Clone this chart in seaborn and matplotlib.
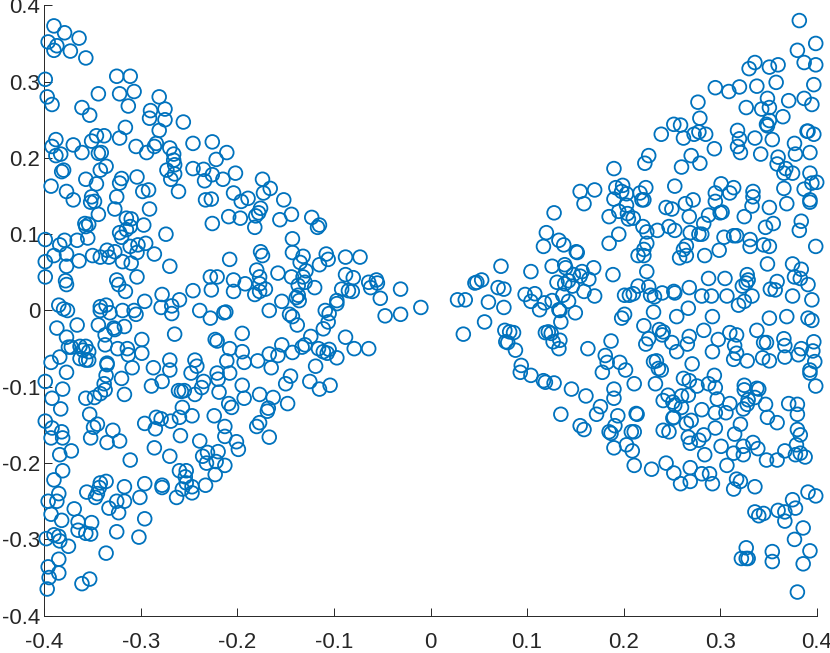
import pandas as pd
import matplotlib.pyplot as plt
import seaborn as sns

# left cloud, upper half
upper_left_x = [-0.390,-0.379,-0.364,-0.396,-0.387,-0.390,-0.373,-0.357,-0.399,-0.325,-0.311,-0.344,-0.322,-0.307,-0.313,-0.281,-0.397,-0.392,-0.361,-0.353,-0.290,-0.291,-0.275,-0.275,-0.256,-0.316,-0.281,-0.322,-0.388,-0.346,-0.338,-0.351,-0.370,-0.392,-0.305,-0.284,-0.286,-0.246,-0.226,-0.361,-0.388,-0.383,-0.344,-0.341,-0.294,-0.270,-0.266,-0.266,-0.211,-0.222,-0.265,-0.336,-0.342,-0.380,-0.382,-0.273,-0.246,-0.235,-0.265,-0.226,-0.234,-0.215,-0.357,-0.320,-0.322,-0.304,-0.269,-0.393,-0.346,-0.377,-0.298,-0.292,-0.261,-0.351,-0.325,-0.370,-0.348,-0.352,-0.233,-0.227,-0.204,-0.327,-0.291,-0.344,-0.209,-0.315,-0.310,-0.358,-0.354,-0.357,-0.297,-0.226,-0.311,-0.315,-0.322,-0.274,-0.320,-0.355,-0.399,-0.366,-0.379,-0.384,-0.295,-0.303,-0.311,-0.335,-0.327,-0.304,-0.390,-0.377,-0.286,-0.350,-0.342,-0.333,-0.208,-0.399,-0.364,-0.319,-0.310,-0.377,-0.270,-0.399,-0.304,-0.228,-0.221,-0.378,-0.325,-0.377,-0.323,-0.316,-0.227,-0.204,-0.246,-0.278,-0.204,-0.296,-0.260,-0.385,-0.380,-0.376,-0.336,-0.342,-0.342,-0.279,-0.268,-0.239,-0.332,-0.319,-0.307,-0.305,-0.268,-0.214,-0.228]
upper_left_y = [0.373,0.364,0.357,0.352,0.347,0.341,0.340,0.331,0.303,0.307,0.307,0.284,0.284,0.287,0.268,0.280,0.280,0.270,0.266,0.256,0.262,0.252,0.264,0.250,0.247,0.240,0.236,0.226,0.224,0.229,0.229,0.222,0.217,0.215,0.215,0.219,0.215,0.219,0.221,0.207,0.203,0.205,0.206,0.207,0.207,0.213,0.205,0.197,0.207,0.198,0.191,0.189,0.184,0.184,0.182,0.184,0.186,0.185,0.179,0.178,0.170,0.172,0.172,0.173,0.167,0.175,0.172,0.163,0.166,0.156,0.156,0.158,0.156,0.149,0.149,0.145,0.143,0.142,0.145,0.146,0.154,0.133,0.133,0.126,0.123,0.121,0.120,0.114,0.113,0.110,0.112,0.114,0.110,0.106,0.102,0.100,0.096,0.095,0.093,0.092,0.092,0.086,0.088,0.086,0.084,0.079,0.077,0.076,0.072,0.074,0.074,0.072,0.070,0.070,0.067,0.064,0.065,0.064,0.062,0.058,0.058,0.044,0.044,0.044,0.044,0.039,0.040,0.034,0.034,0.025,0.027,0.040,0.026,0.021,0.025,0.012,0.014,0.007,0.002,0.000,0.007,0.005,0.000,0.004,0.006,0.000,-0.003,0.000,0.000,-0.005,-0.004,-0.003,-0.010]

# left cloud, lower half
lower_left_x = [-0.387,-0.366,-0.344,-0.317,-0.328,-0.327,-0.265,-0.337,-0.377,-0.223,-0.221,-0.299,-0.375,-0.372,-0.363,-0.357,-0.360,-0.354,-0.337,-0.324,-0.314,-0.313,-0.299,-0.208,-0.363,-0.357,-0.354,-0.384,-0.393,-0.335,-0.335,-0.270,-0.244,-0.242,-0.211,-0.309,-0.287,-0.270,-0.248,-0.377,-0.336,-0.221,-0.220,-0.208,-0.320,-0.399,-0.338,-0.278,-0.289,-0.235,-0.237,-0.381,-0.337,-0.261,-0.255,-0.258,-0.219,-0.244,-0.317,-0.342,-0.348,-0.357,-0.392,-0.209,-0.383,-0.257,-0.260,-0.353,-0.247,-0.224,-0.399,-0.284,-0.279,-0.296,-0.269,-0.345,-0.392,-0.349,-0.285,-0.329,-0.382,-0.213,-0.393,-0.381,-0.352,-0.213,-0.259,-0.322,-0.335,-0.239,-0.286,-0.372,-0.384,-0.220,-0.231,-0.270,-0.236,-0.222,-0.311,-0.232,-0.213,-0.381,-0.260,-0.253,-0.254,-0.223,-0.390,-0.336,-0.342,-0.296,-0.253,-0.317,-0.278,-0.278,-0.233,-0.343,-0.247,-0.257,-0.356,-0.385,-0.345,-0.247,-0.347,-0.301,-0.263,-0.396,-0.387,-0.325,-0.317,-0.369,-0.333,-0.323,-0.393,-0.296,-0.382,-0.365,-0.351,-0.365,-0.325,-0.357,-0.352,-0.390,-0.385,-0.398,-0.302,-0.384,-0.375,-0.336,-0.385,-0.396,-0.385,-0.395,-0.353,-0.361,-0.397]
lower_left_y = [-0.023,-0.019,-0.019,-0.021,-0.023,-0.025,-0.031,-0.032,-0.035,-0.038,-0.040,-0.038,-0.048,-0.048,-0.047,-0.047,-0.052,-0.054,-0.045,-0.050,-0.050,-0.058,-0.056,-0.050,-0.063,-0.065,-0.065,-0.061,-0.068,-0.069,-0.071,-0.065,-0.065,-0.073,-0.066,-0.075,-0.075,-0.078,-0.082,-0.081,-0.085,-0.082,-0.090,-0.082,-0.089,-0.093,-0.096,-0.093,-0.099,-0.093,-0.101,-0.103,-0.104,-0.105,-0.105,-0.106,-0.107,-0.110,-0.110,-0.109,-0.114,-0.115,-0.115,-0.122,-0.129,-0.127,-0.140,-0.136,-0.138,-0.138,-0.145,-0.140,-0.142,-0.148,-0.145,-0.149,-0.154,-0.153,-0.155,-0.157,-0.159,-0.152,-0.167,-0.167,-0.167,-0.165,-0.164,-0.171,-0.173,-0.171,-0.180,-0.184,-0.189,-0.185,-0.186,-0.191,-0.191,-0.198,-0.196,-0.200,-0.203,-0.210,-0.210,-0.210,-0.218,-0.215,-0.222,-0.224,-0.226,-0.227,-0.226,-0.231,-0.229,-0.232,-0.229,-0.232,-0.231,-0.234,-0.238,-0.240,-0.240,-0.239,-0.245,-0.245,-0.245,-0.250,-0.250,-0.250,-0.250,-0.260,-0.259,-0.265,-0.267,-0.273,-0.275,-0.277,-0.278,-0.288,-0.290,-0.292,-0.293,-0.294,-0.296,-0.299,-0.297,-0.302,-0.309,-0.318,-0.326,-0.336,-0.344,-0.350,-0.352,-0.358,-0.365]

# left cloud, tip towards the centre
tip_left_x = [-0.202,-0.174,-0.166,-0.173,-0.189,-0.196,-0.152,-0.197,-0.176,-0.178,-0.181,-0.182,-0.156,-0.144,-0.123,-0.115,-0.117,-0.143,-0.143,-0.176,-0.174,-0.108,-0.106,-0.132,-0.135,-0.115,-0.088,-0.073,-0.129,-0.180,-0.158,-0.088,-0.080,-0.144,-0.132,-0.177,-0.130,-0.064,-0.056,-0.055,-0.062,-0.192,-0.137,-0.177,-0.120,-0.171,-0.031,-0.092,-0.085,-0.081,-0.177,-0.182,-0.137,-0.139,-0.136,-0.052,-0.097,-0.097,-0.154,-0.010,-0.167,-0.109,-0.212,-0.105,-0.146,-0.143,-0.047,-0.031,-0.106,-0.138,-0.111,-0.195,-0.088,-0.124,-0.154,-0.079,-0.064,-0.130,-0.133,-0.116,-0.105,-0.111,-0.107,-0.195,-0.167,-0.143,-0.158,-0.097,-0.193,-0.179,-0.165,-0.119,-0.145,-0.150,-0.125,-0.104,-0.115,-0.195,-0.177,-0.193,-0.163,-0.206,-0.148,-0.168,-0.169,-0.177,-0.180,-0.167,-0.201,-0.199]
tip_left_y = [0.180,0.172,0.160,0.154,0.147,0.143,0.145,0.121,0.134,0.128,0.124,0.109,0.119,0.126,0.122,0.112,0.109,0.094,0.076,0.077,0.072,0.074,0.067,0.071,0.063,0.060,0.070,0.070,0.052,0.053,0.049,0.047,0.043,0.044,0.044,0.044,0.037,0.037,0.040,0.036,0.030,0.035,0.033,0.035,0.030,0.028,0.028,0.028,0.026,0.025,0.025,0.021,0.020,0.017,0.013,0.016,0.013,0.009,0.012,0.004,0.000,0.000,-0.002,-0.004,-0.005,-0.008,-0.007,-0.005,-0.015,-0.019,-0.024,-0.030,-0.035,-0.034,-0.045,-0.050,-0.050,-0.045,-0.048,-0.050,-0.051,-0.054,-0.056,-0.054,-0.057,-0.055,-0.059,-0.062,-0.068,-0.066,-0.075,-0.073,-0.086,-0.096,-0.093,-0.098,-0.103,-0.098,-0.110,-0.115,-0.114,-0.127,-0.122,-0.128,-0.132,-0.147,-0.152,-0.166,-0.172,-0.182]

# right cloud, near the centre
inner_right_x = [0.190,0.155,0.170,0.159,0.192,0.199,0.198,0.190,0.203,0.128,0.195,0.185,0.204,0.205,0.120,0.133,0.195,0.185,0.138,0.117,0.151,0.152,0.073,0.126,0.140,0.104,0.169,0.139,0.157,0.189,0.155,0.148,0.164,0.131,0.143,0.139,0.147,0.053,0.048,0.046,0.070,0.076,0.159,0.098,0.108,0.170,0.201,0.206,0.104,0.028,0.036,0.060,0.118,0.137,0.143,0.126,0.113,0.076,0.133,0.134,0.150,0.201,0.198,0.056,0.135,0.034,0.077,0.082,0.086,0.119,0.122,0.125,0.078,0.080,0.127,0.134,0.133,0.088,0.163,0.187,0.181,0.183,0.196,0.202,0.094,0.093,0.104,0.117,0.119,0.128,0.178,0.146,0.161,0.190,0.190,0.176,0.172,0.135,0.194,0.155,0.159,0.191,0.185,0.187,0.208,0.190]
inner_right_y = [0.186,0.156,0.158,0.140,0.161,0.164,0.156,0.146,0.153,0.128,0.130,0.123,0.127,0.120,0.102,0.092,0.100,0.088,0.086,0.084,0.077,0.076,0.058,0.058,0.056,0.051,0.056,0.060,0.051,0.047,0.045,0.047,0.041,0.037,0.039,0.035,0.032,0.040,0.037,0.036,0.030,0.028,0.025,0.021,0.022,0.019,0.020,0.020,0.012,0.014,0.014,0.011,0.010,0.020,0.012,0.013,0.001,0.004,0.001,0.000,-0.003,-0.005,-0.010,-0.015,-0.015,-0.031,-0.026,-0.028,-0.029,-0.029,-0.028,-0.030,-0.041,-0.042,-0.041,-0.039,-0.050,-0.052,-0.050,-0.040,-0.059,-0.068,-0.068,-0.078,-0.072,-0.081,-0.085,-0.092,-0.094,-0.095,-0.081,-0.103,-0.112,-0.103,-0.115,-0.126,-0.136,-0.136,-0.138,-0.151,-0.156,-0.151,-0.159,-0.161,-0.159,-0.180]

# right cloud, upper half
upper_right_x = [0.382,0.399,0.380,0.387,0.399,0.336,0.330,0.351,0.360,0.397,0.358,0.338,0.320,0.309,0.295,0.387,0.395,0.371,0.349,0.277,0.327,0.343,0.351,0.365,0.279,0.351,0.348,0.349,0.252,0.259,0.239,0.262,0.273,0.278,0.285,0.318,0.320,0.336,0.354,0.390,0.391,0.397,0.377,0.294,0.318,0.321,0.342,0.378,0.393,0.226,0.222,0.270,0.279,0.260,0.360,0.359,0.368,0.366,0.375,0.393,0.223,0.217,0.219,0.221,0.203,0.210,0.253,0.301,0.314,0.310,0.295,0.334,0.334,0.366,0.387,0.395,0.400,0.393,0.393,0.369,0.295,0.272,0.264,0.244,0.250,0.333,0.351,0.300,0.302,0.288,0.268,0.325,0.283,0.355,0.347,0.384,0.382,0.220,0.224,0.235,0.247,0.253,0.269,0.278,0.281,0.304,0.314,0.317,0.331,0.331,0.345,0.351,0.399,0.224,0.221,0.265,0.262,0.215,0.221,0.258,0.265,0.284,0.299,0.349,0.375,0.224,0.384,0.377,0.383,0.391,0.288,0.305,0.328,0.329,0.327,0.323,0.359,0.352,0.357,0.215,0.226,0.240,0.252,0.253,0.268,0.210,0.228,0.232,0.281,0.291,0.307,0.333,0.325,0.319,0.375,0.395,0.267,0.231,0.255,0.292,0.351,0.369,0.391,0.395]
upper_right_y = [0.380,0.350,0.341,0.325,0.322,0.325,0.317,0.319,0.322,0.296,0.299,0.294,0.293,0.287,0.292,0.278,0.270,0.275,0.278,0.273,0.266,0.264,0.266,0.254,0.252,0.249,0.244,0.242,0.244,0.243,0.231,0.226,0.231,0.234,0.231,0.236,0.225,0.226,0.224,0.235,0.235,0.231,0.219,0.212,0.215,0.207,0.205,0.205,0.207,0.203,0.193,0.203,0.193,0.188,0.201,0.192,0.186,0.180,0.180,0.180,0.161,0.154,0.145,0.145,0.138,0.121,0.163,0.166,0.161,0.154,0.154,0.156,0.149,0.160,0.159,0.167,0.168,0.145,0.142,0.140,0.143,0.145,0.140,0.135,0.133,0.137,0.135,0.128,0.129,0.125,0.123,0.123,0.114,0.114,0.109,0.117,0.105,0.110,0.103,0.105,0.110,0.105,0.102,0.100,0.100,0.096,0.098,0.098,0.093,0.084,0.086,0.084,0.084,0.088,0.080,0.085,0.080,0.072,0.072,0.069,0.072,0.072,0.079,0.061,0.061,0.051,0.054,0.044,0.042,0.034,0.042,0.042,0.047,0.040,0.036,0.032,0.038,0.028,0.027,0.032,0.031,0.023,0.025,0.023,0.030,0.022,0.020,0.018,0.019,0.019,0.019,0.019,0.012,0.007,0.019,0.014,0.003,-0.002,-0.008,-0.008,-0.010,-0.008,-0.010,-0.013]

# right cloud, lower half
lower_right_x = [0.221,0.237,0.241,0.283,0.338,0.310,0.317,0.240,0.268,0.226,0.298,0.366,0.397,0.345,0.348,0.223,0.250,0.266,0.315,0.367,0.255,0.292,0.384,0.396,0.317,0.381,0.367,0.344,0.314,0.328,0.351,0.398,0.231,0.234,0.271,0.236,0.239,0.393,0.393,0.294,0.262,0.268,0.276,0.288,0.295,0.325,0.325,0.338,0.340,0.399,0.211,0.233,0.246,0.267,0.260,0.241,0.251,0.297,0.329,0.336,0.310,0.328,0.347,0.371,0.380,0.253,0.260,0.281,0.324,0.295,0.306,0.380,0.213,0.214,0.251,0.252,0.270,0.265,0.349,0.359,0.321,0.295,0.241,0.247,0.211,0.380,0.315,0.383,0.283,0.267,0.278,0.269,0.334,0.203,0.301,0.339,0.324,0.379,0.367,0.209,0.314,0.324,0.284,0.378,0.383,0.388,0.348,0.359,0.211,0.244,0.229,0.307,0.269,0.252,0.281,0.289,0.269,0.259,0.292,0.317,0.321,0.336,0.314,0.391,0.399,0.375,0.378,0.360,0.336,0.367,0.345,0.340,0.367,0.386,0.377,0.327,0.393,0.354,0.322,0.329,0.327,0.354,0.386,0.380]
lower_right_y = [-0.020,-0.025,-0.028,-0.026,-0.026,-0.029,-0.032,-0.032,-0.034,-0.037,-0.038,-0.037,-0.041,-0.042,-0.042,-0.044,-0.042,-0.044,-0.046,-0.046,-0.054,-0.054,-0.050,-0.053,-0.056,-0.058,-0.061,-0.062,-0.064,-0.066,-0.066,-0.067,-0.067,-0.066,-0.070,-0.076,-0.078,-0.078,-0.082,-0.085,-0.089,-0.092,-0.099,-0.096,-0.101,-0.098,-0.104,-0.102,-0.103,-0.099,-0.096,-0.096,-0.111,-0.111,-0.112,-0.118,-0.120,-0.116,-0.117,-0.114,-0.122,-0.123,-0.123,-0.122,-0.123,-0.124,-0.127,-0.130,-0.129,-0.134,-0.134,-0.136,-0.135,-0.136,-0.141,-0.140,-0.144,-0.148,-0.140,-0.147,-0.149,-0.154,-0.157,-0.159,-0.159,-0.156,-0.162,-0.163,-0.163,-0.166,-0.170,-0.174,-0.173,-0.176,-0.178,-0.181,-0.178,-0.176,-0.184,-0.184,-0.187,-0.189,-0.189,-0.189,-0.187,-0.192,-0.196,-0.196,-0.203,-0.200,-0.208,-0.203,-0.206,-0.213,-0.214,-0.214,-0.224,-0.227,-0.227,-0.221,-0.224,-0.231,-0.234,-0.238,-0.243,-0.248,-0.259,-0.262,-0.264,-0.264,-0.266,-0.269,-0.276,-0.285,-0.300,-0.311,-0.315,-0.316,-0.325,-0.325,-0.325,-0.329,-0.332,-0.369]

tick_values = [-0.4, -0.3, -0.2, -0.1, 0, 0.1, 0.2, 0.3, 0.4]
tick_labels = ["-0.4", "-0.3", "-0.2", "-0.1", "0", "0.1", "0.2", "0.3", "0.4"]

sns.set_style("ticks")
plt.rcParams["font.family"] = ["Liberation Sans", "DejaVu Sans"]
plt.rcParams["axes.unicode_minus"] = False

df = pd.DataFrame({
    "x": upper_left_x + lower_left_x + tip_left_x + inner_right_x + upper_right_x + lower_right_x,
    "y": upper_left_y + lower_left_y + tip_left_y + inner_right_y + upper_right_y + lower_right_y,
})

fig = plt.figure(figsize=(8.3, 6.53), dpi=100)
ax = fig.add_axes([44.3 / 830, 1 - 615.7 / 653, (816.7 - 44.3) / 830, (615.7 - 5.3) / 653])
sns.scatterplot(data=df, x="x", y="y", ax=ax, s=97, facecolors="none", edgecolor="#0072BD",
                linewidth=1.3, clip_on=False, zorder=3)

ax.set_xlim(-0.4, 0.4)
ax.set_ylim(-0.4, 0.4)
ax.set_xticks(tick_values, tick_labels)
ax.set_yticks(tick_values, tick_labels)
ax.set_xlabel("")
ax.set_ylabel("")
ax.tick_params(direction="in", length=5.8, width=0.7, color="#262626", labelcolor="#262626", labelsize=16)
ax.tick_params(axis="x", pad=12)
ax.tick_params(axis="y", pad=3)
sns.despine(ax=ax)
for side in ["left", "bottom"]:
    ax.spines[side].set_linewidth(0.7)
    ax.spines[side].set_color("#262626")

fig.savefig("out.png", dpi=100)
